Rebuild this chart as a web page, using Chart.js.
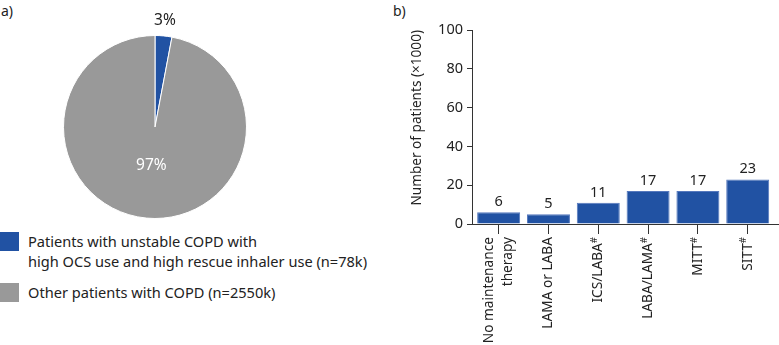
<!DOCTYPE html>
<html>
<head>
<meta charset="utf-8">
<script src="https://cdn.jsdelivr.net/npm/chart.js@4.4.0/dist/chart.umd.min.js"></script>
<style>
  body { margin: 0; width: 779px; height: 345px; background: #fff; position: relative; overflow: hidden; font-family: "Noto Sans", sans-serif; color: #222; }
  .tag { position: absolute; font-size: 14px; line-height: 16px; }
  #pieBox { position: absolute; left: 0; top: 0; width: 310px; height: 230px; }
  #barBox { position: absolute; left: 400px; top: 0; width: 379px; height: 345px; }
  .legend-row { position: absolute; left: 0; font-size: 14.6px; line-height: 20px; }
  .legend-row .swatch { position: absolute; left: 0; top: 1px; width: 19px; height: 19px; }
  .legend-row .txt { position: absolute; left: 28px; white-space: pre; }
</style>
</head>
<body>
<div class="tag" style="left:1px; top:3px;">a)</div>
<div class="tag" style="left:393px; top:3px;">b)</div>
<div id="pieBox"><canvas id="pieCanvas"></canvas></div>
<div id="legendA"></div>
<div id="barBox"><canvas id="barCanvas"></canvas></div>
<script>
// panel a
const pieLabels = [
  "Patients with unstable COPD with\nhigh OCS use and high rescue inhaler use (n=78k)",
  "Other patients with COPD (n=2550k)"
];
const pieValues = [78, 2550];
const pieColors = ["#2152a3", "#999999"];

// panel b
const barCategories = [["No maintenance", "therapy"], ["LAMA or LABA"], ["ICS/LABA"], ["LABA/LAMA"], ["MITT"], ["SITT"]];
const barMarks = ["", "", "#", "#", "#", "#"];
const barValues = [6, 5, 11, 17, 17, 23];
const yTicks = [0, 20, 40, 60, 80, 100];
const yTitle = "Number of patients (\u00d71000)";

const FONT = '"Noto Sans", sans-serif';
const TEXT = "#222";

// legend of panel a, as html text
const legendTops = [231, 282];
pieLabels.forEach((label, i) => {
  const row = document.createElement("div");
  row.className = "legend-row";
  row.style.top = legendTops[i] + "px";
  row.innerHTML = '<div class="swatch"></div><div class="txt"></div>';
  row.querySelector(".swatch").style.background = pieColors[i];
  row.querySelector(".txt").textContent = label;
  document.getElementById("legendA").appendChild(row);
});

// percentage labels on the pie
const pieLabelPlugin = {
  id: "pieLabels",
  afterDatasetsDraw(chart) {
    const ctx = chart.ctx;
    const meta = chart.getDatasetMeta(0);
    const total = pieValues.reduce((a, b) => a + b, 0);
    ctx.save();
    ctx.font = "15.5px " + FONT;
    ctx.textAlign = "center";
    ctx.textBaseline = "middle";
    meta.data.forEach((arc, i) => {
      const share = pieValues[i] / total;
      const mid = (arc.startAngle + arc.endAngle) / 2;
      const outside = share < 0.1; // small slices get their label outside
      const r = outside ? arc.outerRadius + 15 : arc.outerRadius * 0.42;
      ctx.fillStyle = outside ? TEXT : "#fff";
      ctx.fillText(Math.round(share * 100) + "%", arc.x + Math.cos(mid) * r, arc.y + Math.sin(mid) * r);
    });
    ctx.restore();
  }
};

new Chart(document.getElementById("pieCanvas"), {
  type: "pie",
  data: {
    labels: pieLabels,
    datasets: [{
      data: pieValues,
      backgroundColor: pieColors,
      borderColor: "#fff",
      borderWidth: 1
    }]
  },
  options: {
    animation: false,
    responsive: true,
    maintainAspectRatio: false,
    layout: { padding: { top: 35, bottom: 11, left: 63, right: 63 } },
    plugins: {
      legend: { display: false },
      tooltip: { enabled: false }
    }
  },
  plugins: [pieLabelPlugin]
});

// value above each bar
const barValuePlugin = {
  id: "barValues",
  afterDatasetsDraw(chart) {
    const ctx = chart.ctx;
    ctx.save();
    ctx.font = "14.5px " + FONT;
    ctx.fillStyle = TEXT;
    ctx.textAlign = "center";
    ctx.textBaseline = "bottom";
    chart.getDatasetMeta(0).data.forEach((bar, i) => {
      ctx.fillText(String(barValues[i]), bar.x, bar.y - 3);
    });
    ctx.restore();
  }
};

// rotated category labels with superscript marks
const xLabelPlugin = {
  id: "xLabels",
  afterDraw(chart) {
    const scale = chart.scales.x;
    const ctx = chart.ctx;
    ctx.save();
    ctx.fillStyle = TEXT;
    ctx.textAlign = "right";
    ctx.textBaseline = "middle";
    barCategories.forEach((lines, i) => {
      ctx.save();
      ctx.translate(scale.getPixelForValue(i), scale.top + 13);
      ctx.rotate(-Math.PI / 2);
      ctx.font = "9.5px " + FONT;
      const supW = barMarks[i] ? ctx.measureText(barMarks[i]).width : 0;
      lines.forEach((line, j) => {
        const dy = (j - (lines.length - 1) / 2) * 19;
        ctx.font = "13.7px " + FONT;
        ctx.fillText(line, -supW, dy);
        if (barMarks[i] && j === lines.length - 1) {
          ctx.font = "9.5px " + FONT;
          ctx.fillText(barMarks[i], 0, dy - 4);
        }
      });
      ctx.restore();
    });
    ctx.restore();
  }
};

new Chart(document.getElementById("barCanvas"), {
  type: "bar",
  data: {
    datasets: [{
      data: barValues.map((v, i) => ({ x: i, y: v })),
      backgroundColor: "#2152a3",
      borderColor: "#5578bd",
      borderWidth: 1,
      barPercentage: 0.863,
      categoryPercentage: 1
    }]
  },
  options: {
    animation: false,
    responsive: true,
    maintainAspectRatio: false,
    layout: { padding: { top: 30, right: 0, left: 0, bottom: 0 } },
    plugins: {
      legend: { display: false },
      tooltip: { enabled: false }
    },
    scales: {
      x: {
        type: "linear",
        offset: false,
        min: -0.535,
        max: 5.628,
        afterBuildTicks: scale => { scale.ticks = barCategories.map((_, i) => ({ value: i })); },
        afterFit: scale => { scale.height = 121; },
        ticks: { display: false },
        grid: { offset: false, drawOnChartArea: false, drawTicks: true, tickLength: 10, color: "#333" },
        border: { color: "#333", width: 1 }
      },
      y: {
        min: 0,
        max: 100,
        afterBuildTicks: scale => { scale.ticks = yTicks.map(v => ({ value: v })); },
        afterFit: scale => { scale.width = 72; },
        ticks: { font: { family: FONT, size: 14.5 }, color: TEXT, padding: 4 },
        grid: { drawOnChartArea: false, drawTicks: true, tickLength: 5, color: "#333" },
        border: { color: "#333", width: 1 },
        title: {
          display: true,
          text: yTitle,
          align: "end",
          color: TEXT,
          font: { family: FONT, size: 13.6 },
          padding: { top: 9, bottom: 0 }
        }
      }
    }
  },
  plugins: [barValuePlugin, xLabelPlugin]
});
</script>
</body>
</html>
